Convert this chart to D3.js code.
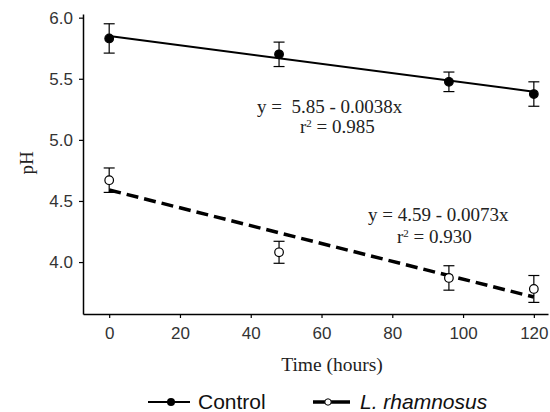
<!DOCTYPE html>
<html>
<head>
<meta charset="utf-8">
<script src="https://cdn.jsdelivr.net/npm/d3@7"></script>
<style>
  body { margin: 0; background: #fff; }
  svg { display: block; }
</style>
</head>
<body>
<div id="chart"></div>
<script>
// data
const hours = [0, 48, 96, 120];
const controlPH = [5.83, 5.70, 5.475, 5.375];
const controlErr = [0.12, 0.10, 0.08, 0.10];
const rhamPH = [4.67, 4.08, 3.87, 3.78];
const rhamErr = [0.10, 0.09, 0.10, 0.11];
const xTicks = [0, 20, 40, 60, 80, 100, 120];
const yTicks = [4.0, 4.5, 5.0, 5.5, 6.0];
// fitted lines: intercept, slope
const controlFit = [5.85, -0.0038];
const rhamFit = [4.59, -0.0073];

const svgWidth = 550;
const svgHeight = 412;

const svg = d3.select("#chart")
    .append("svg")
    .attr("width", svgWidth)
    .attr("height", svgHeight);

const x = d3.scaleLinear().domain([-7.4, 124]).range([83, 548]);
const y = d3.scaleLinear().domain([3.575, 6.03]).range([314, 14]);

const serif = "'Liberation Serif', 'Times New Roman', serif";
const sans = "'Liberation Sans', Arial, sans-serif";

// axes
const yAxis = svg.append("g")
    .attr("transform", `translate(${x.range()[0]},0)`)
    .call(d3.axisLeft(y).tickValues(yTicks).tickFormat(d3.format(".1f"))
        .tickSize(4).tickSizeOuter(0).tickPadding(6));

const xAxis = svg.append("g")
    .attr("transform", `translate(0,${y.range()[0]})`)
    .call(d3.axisBottom(x).tickValues(xTicks)
        .tickSize(4).tickSizeOuter(0).tickPadding(9));

[xAxis, yAxis].forEach(g => {
    g.select(".domain").attr("stroke", "#000").attr("stroke-width", 1.5);
    g.selectAll(".tick line").attr("stroke", "#000").attr("stroke-width", 1.2);
    g.selectAll(".tick text")
        .attr("fill", "#333")
        .style("font-family", sans)
        .style("font-size", "17px");
});

// axis titles
svg.append("text")
    .attr("x", 332).attr("y", 371)
    .attr("text-anchor", "middle")
    .style("font-family", serif).style("font-size", "19.5px")
    .attr("fill", "#222")
    .text("Time (hours)");

svg.append("text")
    .attr("transform", "translate(33,163) rotate(-90)")
    .attr("text-anchor", "middle")
    .style("font-family", serif).style("font-size", "19px")
    .attr("fill", "#222")
    .text("pH");

// regression lines
function drawFit(fit, dashed) {
    const line = d3.line()
        .x(t => x(t))
        .y(t => y(fit[0] + fit[1] * t));
    svg.append("path")
        .attr("d", line([0, 120]))
        .attr("fill", "none")
        .attr("stroke", "#000")
        .attr("stroke-width", dashed ? 3.5 : 2)
        .attr("stroke-dasharray", dashed ? "12,6" : null);
}
drawFit(controlFit, false);
drawFit(rhamFit, true);

// error bars and markers
function drawSeries(vals, errs, filled) {
    const g = svg.append("g");
    hours.forEach((t, i) => {
        const cx = x(t);
        const top = y(vals[i] + errs[i]);
        const bot = y(vals[i] - errs[i]);
        g.append("line").attr("x1", cx).attr("x2", cx).attr("y1", top).attr("y2", bot)
            .attr("stroke", "#000").attr("stroke-width", 1.2);
        [top, bot].forEach(yy => {
            g.append("line").attr("x1", cx - 5.5).attr("x2", cx + 5.5)
                .attr("y1", yy).attr("y2", yy)
                .attr("stroke", "#000").attr("stroke-width", 1.2);
        });
    });
    g.selectAll("circle")
        .data(vals)
        .enter()
        .append("circle")
        .attr("cx", (d, i) => x(hours[i]))
        .attr("cy", d => y(d))
        .attr("r", 4.3)
        .attr("fill", filled ? "#000" : "#fff")
        .attr("stroke", "#000")
        .attr("stroke-width", 1.2);
}
drawSeries(controlPH, controlErr, true);
drawSeries(rhamPH, rhamErr, false);

// equations
function eqText(tx, ty, s) {
    svg.append("text")
        .attr("x", tx).attr("y", ty)
        .style("font-family", serif).style("font-size", "19px")
        .attr("fill", "#222")
        .style("white-space", "pre")
        .text(s);
}
function r2Text(tx, ty, val) {
    const t = svg.append("text")
        .attr("x", tx).attr("y", ty)
        .style("font-family", serif).style("font-size", "19px")
        .attr("fill", "#222");
    t.append("tspan").text("r");
    t.append("tspan").attr("dy", -6).style("font-size", "11px").text("2");
    t.append("tspan").attr("dy", 6).text(" = " + val);
}
eqText(257, 113, "y =  5.85 - 0.0038x");
r2Text(300, 133, "0.985");
eqText(368, 221, "y = 4.59 - 0.0073x");
r2Text(397, 243, "0.930");

// legend
const legY = 402;
svg.append("line").attr("x1", 148).attr("x2", 190).attr("y1", legY).attr("y2", legY)
    .attr("stroke", "#000").attr("stroke-width", 2);
svg.append("circle").attr("cx", 171).attr("cy", legY).attr("r", 4).attr("fill", "#000");
svg.append("text").attr("x", 198).attr("y", 409)
    .style("font-family", sans).style("font-size", "21px").attr("fill", "#111")
    .text("Control");

svg.append("line").attr("x1", 313).attr("x2", 350).attr("y1", legY).attr("y2", legY)
    .attr("stroke", "#000").attr("stroke-width", 3.5);
svg.append("circle").attr("cx", 328).attr("cy", legY).attr("r", 3.2)
    .attr("fill", "#fff").attr("stroke", "#000").attr("stroke-width", 1);
svg.append("text").attr("x", 360).attr("y", 409)
    .style("font-family", sans).style("font-size", "21px").style("font-style", "italic")
    .attr("fill", "#111")
    .text("L. rhamnosus");
</script>
</body>
</html>
